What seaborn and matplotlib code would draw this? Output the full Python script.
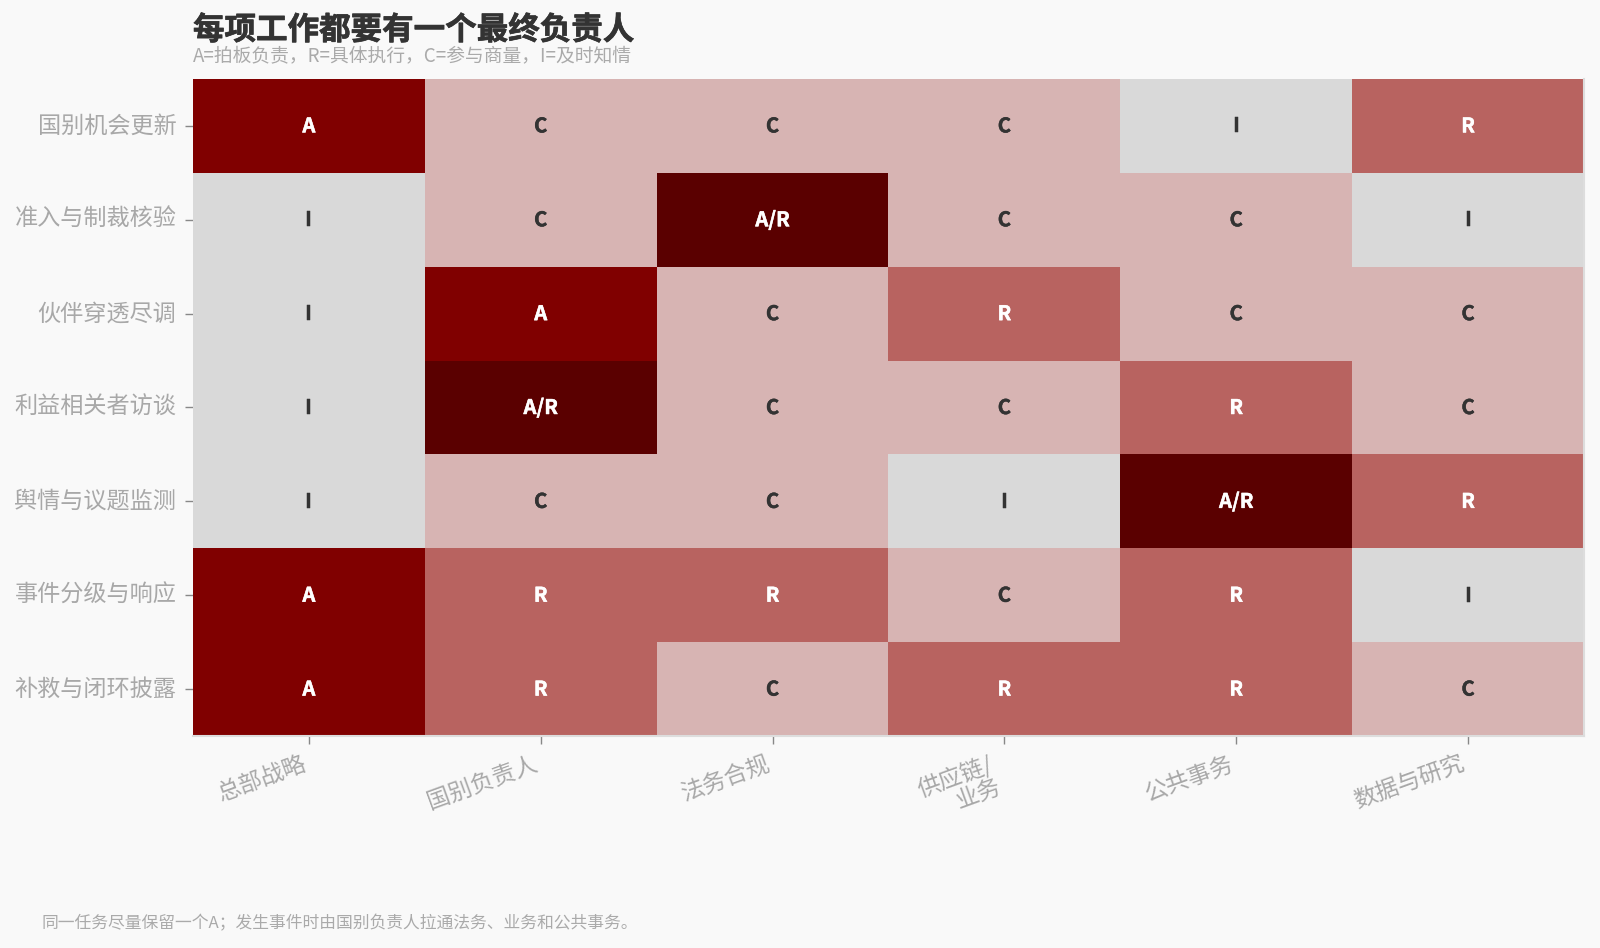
import numpy as np
import pandas as pd
import matplotlib
matplotlib.use("Agg")
import matplotlib.pyplot as plt
from matplotlib.colors import ListedColormap
from matplotlib import font_manager as fm
import matplotlib.patheffects as pe
import seaborn as sns

tasks = ["国别机会更新", "准入与制裁核验", "伙伴穿透尽调", "利益相关者访谈",
         "舆情与议题监测", "事件分级与响应", "补救与闭环披露"]
teams = ["总部战略", "国别负责人", "法务合规", "供应链/\n业务", "公共事务", "数据与研究"]

row_opportunity = ["A", "C", "C", "C", "I", "R"]
row_sanctions = ["I", "C", "A/R", "C", "C", "I"]
row_partner = ["I", "A", "C", "R", "C", "C"]
row_stakeholder = ["I", "A/R", "C", "C", "R", "C"]
row_monitoring = ["I", "C", "C", "I", "A/R", "R"]
row_incident = ["A", "R", "R", "C", "R", "I"]
row_remedy = ["A", "R", "C", "R", "R", "C"]

roles = ["I", "C", "R", "A", "A/R"]
role_colors = ["#d9d9d9", "#d7b4b3", "#b86360", "#800000", "#5a0000"]
role_text = ["#333333", "#333333", "#ffffff", "#ffffff", "#ffffff"]

title = "每项工作都要有一个最终负责人"
subtitle = "A=拍板负责，R=具体执行，C=参与商量，I=及时知情"
footnote = "同一任务尽量保留一个A；发生事件时由国别负责人拉通法务、业务和公共事务。"

sns.set_theme(style="white")
plt.rcParams["font.family"] = ["Noto Sans CJK SC", "DejaVu Sans"]

# pick lighter / heavier CJK faces if installed
light_w, heavy_w = "normal", "bold"
cjk = [f for f in fm.fontManager.ttflist if f.name == "Noto Sans CJK SC"]
weights = sorted({f.weight if isinstance(f.weight, int) else 400 for f in cjk})
if any(w < 400 for w in weights):
    light_w = max(w for w in weights if w < 400)
if any(w > 700 for w in weights):
    heavy_w = min(w for w in weights if w > 700)

rows = [row_opportunity, row_sanctions, row_partner, row_stakeholder,
        row_monitoring, row_incident, row_remedy]
labels = pd.DataFrame(rows, index=tasks, columns=teams)
codes = labels.apply(lambda c: c.map({r: i for i, r in enumerate(roles)}))

bg = "#f9f9f9"
fig = plt.figure(figsize=(16, 9.48), dpi=100, facecolor=bg)
ax = fig.add_axes([0.1206, 0.2236, 0.8694, 0.6931])
ax.set_facecolor(bg)

sns.heatmap(codes, ax=ax, cmap=ListedColormap(role_colors), vmin=-0.5, vmax=len(roles) - 0.5,
            cbar=False, annot=False, linewidths=0)

for i in range(len(tasks)):
    for j in range(len(teams)):
        lab = labels.iat[i, j]
        k = roles.index(lab)
        ax.text(j + 0.5, i + 0.5, lab, ha="center", va="center",
                fontsize=14.5, fontweight=heavy_w, color=role_text[k],
                path_effects=[pe.withStroke(linewidth=0.35, foreground=role_text[k])])

ax.set_xlabel("")
ax.set_ylabel("")
ax.tick_params(axis="both", which="both", length=6, width=1, color="#888888",
               labelcolor="#a8a8a8", labelsize=16.7, bottom=True, left=True)
ax.tick_params(axis="x", pad=6)
ax.tick_params(axis="y", pad=6)
for t in ax.get_yticklabels():
    t.set_rotation(0)
    t.set_fontweight(light_w)
for t in ax.get_xticklabels():
    t.set_rotation(20)
    t.set_ha("right")
    t.set_fontweight(light_w)
    t.set_linespacing(1.0)

for s in ["top", "left"]:
    ax.spines[s].set_visible(False)
for s in ["bottom", "right"]:
    ax.spines[s].set_visible(True)
    ax.spines[s].set_color("#dddddd")
    ax.spines[s].set_linewidth(1.5)

fig.text(0.1206, 0.951, title, fontsize=22.7, fontweight=heavy_w, color="#333333",
         ha="left", va="bottom",
         path_effects=[pe.withStroke(linewidth=0.5, foreground="#333333")])
fig.text(0.1206, 0.930, subtitle, fontsize=13.5, fontweight=light_w, color="#aaaaaa",
         ha="left", va="bottom")
fig.text(0.026, 0.026, footnote, fontsize=12.1, fontweight=light_w, color="#aaaaaa",
         ha="left", va="center")

fig.savefig("out.png", dpi=100, facecolor=bg)
